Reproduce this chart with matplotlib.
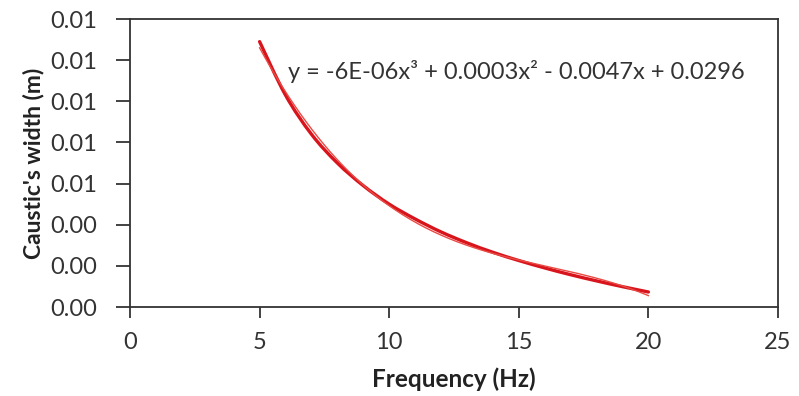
import matplotlib
matplotlib.use("Agg")
import matplotlib.pyplot as plt
import numpy as np
from matplotlib.ticker import FuncFormatter
from matplotlib.path import Path
from matplotlib.patches import PathPatch

plt.rcParams['font.family'] = ['Lato', 'DejaVu Sans']

freq = [5, 6, 7, 8, 9, 10, 11, 12, 13, 14, 15, 16, 17, 18, 19, 20]
width = [0.0129, 0.0103, 0.0084, 0.0070, 0.0059, 0.0050, 0.00428, 0.00365,
         0.00312, 0.00266, 0.00226, 0.0019, 0.00157, 0.00127, 0.00099, 0.00073]
x_ticks = [0, 5, 10, 15, 20, 25]
y_ticks = [0, 0.002, 0.004, 0.006, 0.008, 0.010, 0.012, 0.014]
equation = "y = -6E-06x³ + 0.0003x² - 0.0047x + 0.0296"

fig = plt.figure(figsize=(7.99, 3.96), dpi=100)
ax = fig.add_axes([0.1627, 0.2247, 0.8110, 0.7273])

# Excel-style smoothed line (Catmull-Rom -> cubic Bezier segments)
px = np.array(freq, float)
py = np.array(width, float)
verts = [(px[0], py[0])]
codes = [Path.MOVETO]
n = len(px)
for i in range(n - 1):
    p0 = (px[max(i - 1, 0)], py[max(i - 1, 0)])
    p1 = (px[i], py[i])
    p2 = (px[i + 1], py[i + 1])
    p3 = (px[min(i + 2, n - 1)], py[min(i + 2, n - 1)])
    c1 = (p1[0] + (p2[0] - p0[0]) / 6, p1[1] + (p2[1] - p0[1]) / 6)
    c2 = (p2[0] - (p3[0] - p1[0]) / 6, p2[1] - (p3[1] - p1[1]) / 6)
    verts += [c1, c2, p2]
    codes += [Path.CURVE4] * 3
ax.add_patch(PathPatch(Path(verts, codes), fill=False, edgecolor='#d8141c',
                       lw=2.4, capstyle='round', zorder=3))

coef = np.polyfit(freq, width, 3)
xf = np.linspace(min(freq), max(freq), 200)
ax.plot(xf, np.polyval(coef, xf), color='#ea4a44', lw=1.0, zorder=4)

ax.set_xlim(0, 25)
ax.set_ylim(0, 0.014)
ax.set_xticks(x_ticks)
ax.set_yticks(y_ticks)
ax.yaxis.set_major_formatter(FuncFormatter(lambda v, p: f"{v:.2f}"))
ax.tick_params(axis='y', direction='out', length=10, width=1.2, colors='#222222',
               labelsize=17, labelcolor='#333333', pad=14)
ax.tick_params(axis='x', direction='out', length=8, width=1.2, colors='#222222',
               labelsize=17, labelcolor='#333333', pad=10)
for s in ax.spines.values():
    s.set_linewidth(1.3)
    s.set_color('#333333')

ax.set_xlabel("Frequency (Hz)", fontsize=17.5, fontweight='bold', color='#222222', labelpad=10)
ax.set_ylabel("Caustic's width (m)", fontsize=16.5, fontweight='bold', color='#222222', labelpad=4)

ax.text(6.08, 0.01144, equation, fontsize=17, color='#333333', ha='left', va='center')

fig.savefig("out.png", dpi=100)
